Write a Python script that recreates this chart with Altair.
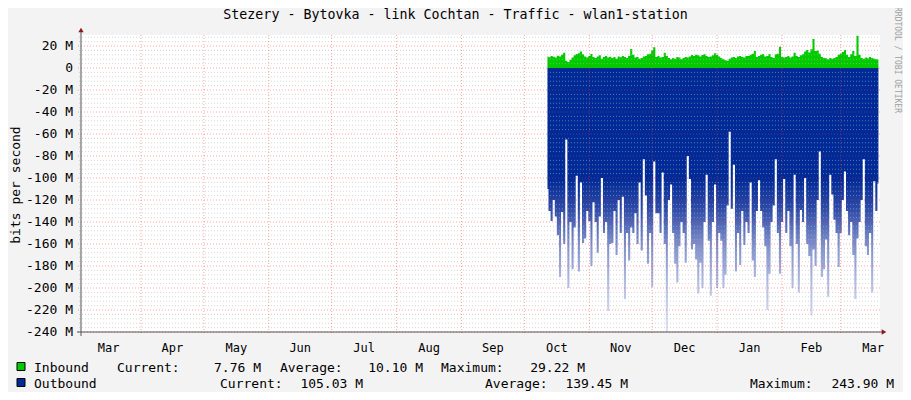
import altair as alt
import pandas as pd

# ---------------- data ----------------
title = "Stezery - Bytovka - link Cochtan - Traffic - wlan1-station"
y_title = "bits per second"
credit = "RRDTOOL / TOBI OETIKER"

start_day = "2014-10-12"

# Inbound traffic, M bit/s, one value per day
inbound_M = [
    10.5, 9.8, 11.0, 10.2, 9.5, 11.2, 10.4, 12.0, 13.9,
    6.5, 5.5, 7.5,
    9.5, 11.5, 12.8, 13.5, 15.0, 12.5,
    10.5, 9.5, 11.0, 12.7, 10.0,
    9.0, 10.5, 11.5, 8.5, 10.0, 11.0, 9.5, 10.2,
    9.0, 10.0, 8.5, 10.5, 9.8, 11.0, 10.0, 9.0,
    11.0, 17.3, 12.0,
    9.5, 10.0, 8.5, 9.0, 10.5, 11.0, 12.5,
    13.0, 16.0, 18.8,
    10.0, 11.0, 9.5, 10.0,
    13.9, 11.0, 9.0,
    8.0, 9.0, 8.5, 10.0, 9.5, 8.0, 9.0, 10.0,
    9.5, 10.5, 11.8, 11.0, 12.0, 11.5, 10.5, 11.8,
    12.5, 11.0, 10.0, 10.5, 11.5,
    13.3, 12.0, 10.5, 9.0,
    8.0, 7.0, 6.7, 8.5, 9.5,
    10.0, 9.0, 10.5, 11.0, 10.0, 9.5, 11.0,
    11.0, 12.0, 13.0,
    15.4, 10.0, 11.0, 12.0, 12.7, 10.5, 11.0,
    12.7, 10.0, 9.0,
    12.5, 13.0, 19.4,
    10.0, 9.5, 10.0, 11.0, 9.5, 10.5, 13.9,
    11.0, 10.0, 11.5, 12.5,
    15.0, 16.4, 14.0,
    17.0, 26.4, 15.4, 16.0, 13.0,
    10.0, 9.0, 8.8, 8.0, 9.0, 8.5,
    9.0, 10.0, 12.0, 13.0,
    14.5, 16.4, 12.0, 10.0, 12.5, 15.4, 11.0, 29.22, 12.0,
    9.0, 8.5, 9.5, 8.8, 10.0, 9.0, 8.5, 8.0, 7.76,
]

# Outbound traffic, M bit/s (drawn below zero), one value per day
outbound_M = [
    110, 130, 139, 120, 135, 152, 190, 131, 160, 65,
    200, 140, 183, 145, 98, 185, 104, 159, 155, 130,
    139, 180, 122, 140, 168, 135, 100, 150, 140, 221,
    160, 159, 130, 170, 120, 150, 117, 210, 150, 175,
    145, 150, 132, 160, 104, 166, 83, 116, 178, 150,
    199, 85, 132, 132, 150, 95, 160, 243.9, 120, 106,
    150, 178, 195, 162, 140, 150, 177, 80, 101, 165,
    160, 174, 205, 177, 200, 140, 97, 157, 207, 140,
    106, 200, 150, 157, 200, 188, 125, 58, 128, 88,
    185, 150, 179, 130, 161, 140, 150, 104, 175, 190,
    130, 102, 130, 145, 162, 220, 187, 140, 125, 83,
    150, 187, 140, 101, 150, 130, 162, 200, 97, 160,
    204, 129, 140, 100, 160, 171, 225, 165, 180, 120,
    76, 190, 183, 156, 208, 97, 115, 138, 150, 181,
    150, 120, 94, 130, 152, 140, 170, 210, 155, 140,
    120, 83, 162, 170, 150, 204, 103, 130, 105.03,
]

month_names = ["Mar", "Apr", "May", "Jun", "Jul", "Aug", "Sep",
               "Oct", "Nov", "Dec", "Jan", "Feb", "Mar"]
month_label_dates = [
    "2014-03-16T12:00:00", "2014-04-16T00:00:00", "2014-05-16T12:00:00",
    "2014-06-16T00:00:00", "2014-07-16T12:00:00", "2014-08-16T12:00:00",
    "2014-09-16T00:00:00", "2014-10-16T12:00:00", "2014-11-16T00:00:00",
    "2014-12-16T12:00:00", "2015-01-16T12:00:00", "2015-02-15T00:00:00",
    "2015-03-16T12:00:00",
]
month_starts = [
    "2014-04-01T00:00:00", "2014-05-01T00:00:00", "2014-06-01T00:00:00",
    "2014-07-01T00:00:00", "2014-08-01T00:00:00", "2014-09-01T00:00:00",
    "2014-10-01T00:00:00", "2014-11-01T00:00:00", "2014-12-01T00:00:00",
    "2015-01-01T00:00:00", "2015-02-01T00:00:00", "2015-03-01T00:00:00",
]
y_major_M = [20, 0, -20, -40, -60, -80, -100, -120, -140, -160, -180, -200, -220, -240]
y_tick_labels = ["20 M", "0", "-20 M", "-40 M", "-60 M", "-80 M", "-100 M", "-120 M",
                 "-140 M", "-160 M", "-180 M", "-200 M", "-220 M", "-240 M"]
y_minor_M = [v for v in range(-236, 30, 4) if v % 20 != 0]

legend_labels = [("Inbound", 0), ("Current:", 0), ("Average:", 0), ("Maximum:", 0),
                 ("Outbound", 1), ("Current:", 1), ("Average:", 1), ("Maximum:", 1)]
legend_values = [("7.76 M", 0), ("10.10 M", 0), ("29.22 M", 0),
                 ("105.03 M", 1), ("139.45 M", 1), ("243.90 M", 1)]
series_colors = ["#00CC00", "#002A97"]

# ---------------- layout ----------------
W, H = 799, 297
MONO = "DejaVu Sans Mono"
label_x = [-47, 36, 199, 360, -47, 139, 404, 669]
value_x = [180, 342, 504, 282, 547, 813]
row_y = [337, 353]
square_y = [331.5, 347.5]

dates = [(pd.Timestamp(start_day) + pd.Timedelta(days=i)).strftime("%Y-%m-%dT%H:%M:%S")
         for i in range(len(outbound_M))]
traffic = pd.DataFrame({"date": dates, "inbound": inbound_M,
                        "outbound": [-v for v in outbound_M]})

xscale = alt.Scale(domain=[alt.DateTime(year=2014, month=3, date=3, hours=8, minutes=40),
                           alt.DateTime(year=2015, month=3, date=19, hours=17, minutes=45)])
yscale = alt.Scale(domain=[-240, 30], nice=False, zero=False)

layers = []

layers.append(
    alt.Chart(traffic).mark_area(color=series_colors[0], interpolate="step").encode(
        x=alt.X("date:T", scale=xscale, axis=None),
        y=alt.Y("inbound:Q", scale=yscale, axis=None),
        y2=alt.datum(0),
    )
)

out_fill = alt.Gradient(
    gradient="linear", x1=0, x2=0, y1=0, y2=1,
    stops=[alt.GradientStop(color="#002A97", offset=0),
           alt.GradientStop(color="#002A97", offset=0.41),
           alt.GradientStop(color="#2C49A8", offset=0.52),
           alt.GradientStop(color="#7F90CB", offset=0.66),
           alt.GradientStop(color="#B8C2E5", offset=0.82),
           alt.GradientStop(color="#E2E6F4", offset=1)],
)
layers.append(
    alt.Chart(traffic).mark_area(color=out_fill, interpolate="step", clip=True).encode(
        x=alt.X("date:T", scale=xscale, axis=None),
        y=alt.Y("outbound:Q", scale=yscale, axis=None),
        y2=alt.datum(0),
    )
)

# grid (drawn over the data, as rrdtool does)
layers.append(
    alt.Chart(pd.DataFrame({"v": y_minor_M})).mark_rule(
        color="#B4B4B4", strokeDash=[1, 2], strokeWidth=1, opacity=0.55).encode(
        y=alt.Y("v:Q", scale=yscale, axis=None), x=alt.value(-2), x2=alt.value(W))
)
layers.append(
    alt.Chart(pd.DataFrame({"v": y_major_M})).mark_rule(
        color="#FF3030", strokeDash=[1, 2], strokeWidth=1, opacity=0.45).encode(
        y=alt.Y("v:Q", scale=yscale, axis=None), x=alt.value(-3), x2=alt.value(W))
)
layers.append(
    alt.Chart(pd.DataFrame({"d": month_starts})).mark_rule(
        color="#FF3030", strokeDash=[1, 2], strokeWidth=1, opacity=0.45).encode(
        x=alt.X("d:T", scale=xscale, axis=None), y=alt.value(0), y2=alt.value(H + 3))
)

# y tick labels
layers.append(
    alt.Chart(pd.DataFrame({"v": y_major_M, "lab": y_tick_labels})).mark_text(
        font=MONO, fontSize=13, align="right", baseline="middle", color="#000000").encode(
        y=alt.Y("v:Q", scale=yscale, axis=None), x=alt.value(-8), text="lab:N")
)

# month labels
layers.append(
    alt.Chart(pd.DataFrame({"d": month_label_dates, "m": month_names})).mark_text(
        font=MONO, fontSize=12, align="center", baseline="alphabetic", color="#000000").encode(
        x=alt.X("d:T", scale=xscale, axis=None), y=alt.value(H + 20), text="m:N")
)

# axis lines and arrows
axis_df = pd.DataFrame({"a": [0]})
layers.append(alt.Chart(axis_df).mark_rule(color="#555555").encode(
    x=alt.value(0), y=alt.value(-3), y2=alt.value(H + 4)))
layers.append(alt.Chart(axis_df).mark_rule(color="#555555").encode(
    x=alt.value(-4), x2=alt.value(W + 2), y=alt.value(H)))
layers.append(alt.Chart(axis_df).mark_point(shape="triangle-up", filled=True, color="#8B1A1A", size=28, opacity=1).encode(
    x=alt.value(0), y=alt.value(-5)))
layers.append(alt.Chart(axis_df).mark_point(shape="triangle-right", filled=True, color="#8B1A1A", size=28, opacity=1).encode(
    x=alt.value(W + 4), y=alt.value(H)))


def text_layer(s, x, y, **kw):
    return alt.Chart(pd.DataFrame({"t": [s]})).mark_text(font=MONO, **kw).encode(
        text="t:N", x=alt.value(x), y=alt.value(y))


layers.append(text_layer(title, 374.5, -16, fontSize=13.3, align="center", baseline="alphabetic", color="#000000"))
layers.append(text_layer(y_title, -65, 150, fontSize=13, align="center", baseline="middle", angle=270, color="#000000"))
layers.append(text_layer(credit, 816, 25, fontSize=8, align="center", baseline="middle", angle=90, color="#A0A0A0"))

# legend
for k, c in enumerate(series_colors):
    layers.append(alt.Chart(axis_df).mark_square(size=64, filled=True, fill=c, stroke="#000000",
                                                 strokeWidth=1, opacity=1).encode(
        x=alt.value(-60), y=alt.value(square_y[k])))
for (s, r), x in zip(legend_labels, label_x):
    layers.append(text_layer(s, x, row_y[r], fontSize=13, align="left", baseline="alphabetic", color="#000000"))
for (s, r), x in zip(legend_values, value_x):
    layers.append(text_layer(s, x, row_y[r], fontSize=13, align="right", baseline="alphabetic", color="#000000"))

chart = alt.layer(*layers).properties(
    width=W, height=H,
    autosize=alt.AutoSizeParams(type="none"),
    padding={"left": 73, "top": 27, "right": 23, "bottom": 60},
    background="#F3F3F3",
).configure_view(stroke=None, fill="white")

chart.save("out.html", embed_options={"renderer": "svg", "actions": False})
